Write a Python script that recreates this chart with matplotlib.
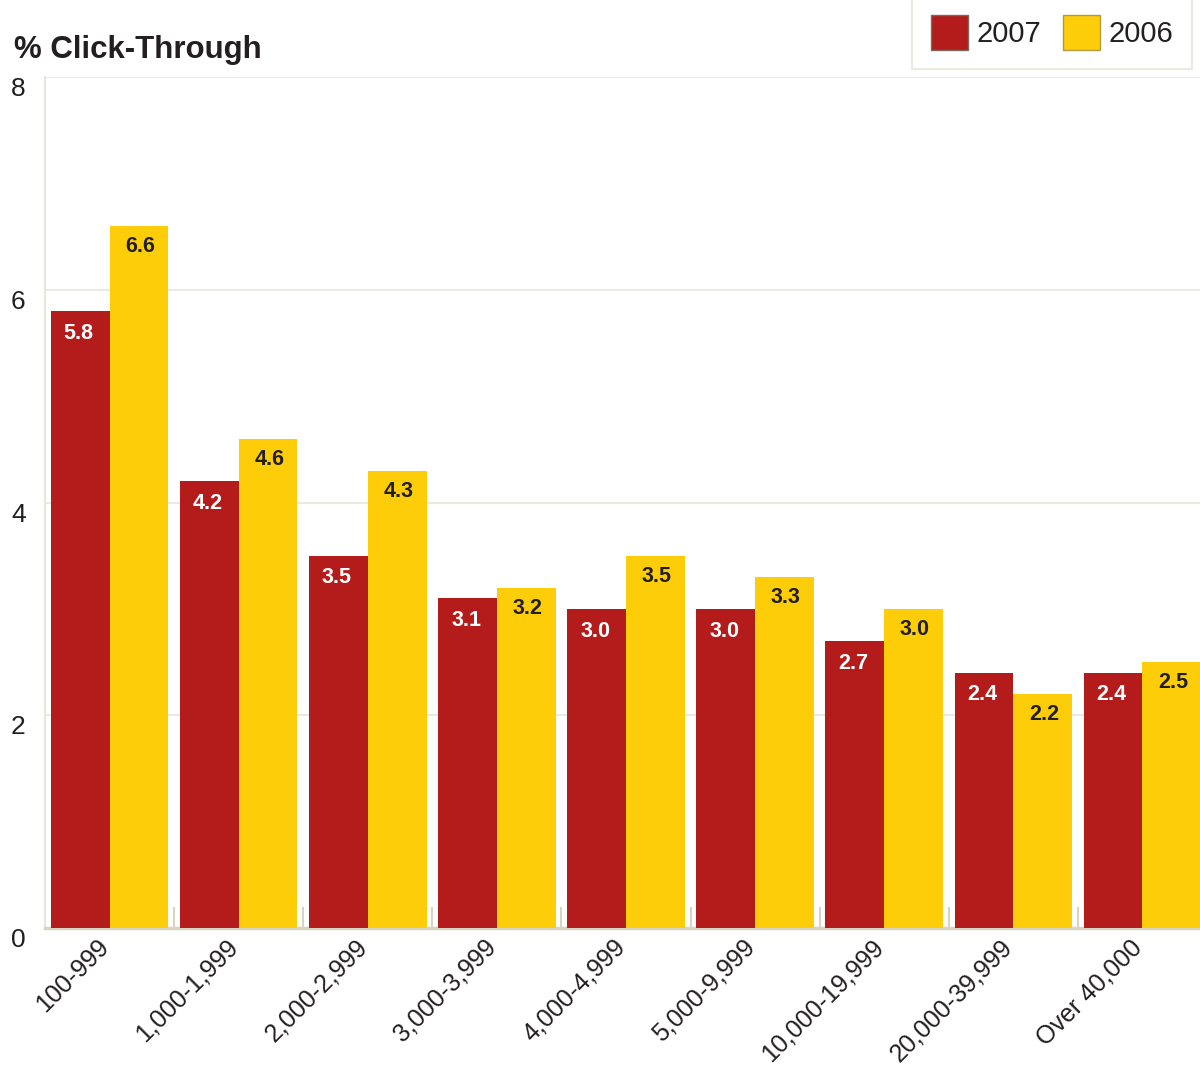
import matplotlib.pyplot as plt
from matplotlib.patches import Patch
from matplotlib.transforms import ScaledTranslation
import numpy as np

plt.rcParams['font.family'] = ['Liberation Sans', 'DejaVu Sans']

# Click-through rate by list size
categories = ['100-999', '1,000-1,999', '2,000-2,999', '3,000-3,999', '4,000-4,999',
              '5,000-9,999', '10,000-19,999', '20,000-39,999', 'Over 40,000']
rate_2007 = [5.8, 4.2, 3.5, 3.1, 3.0, 3.0, 2.7, 2.4, 2.4]
rate_2006 = [6.6, 4.6, 4.3, 3.2, 3.5, 3.3, 3.0, 2.2, 2.5]
yticks = [0, 2, 4, 6, 8]

RED = '#b31c1a'
YELLOW = '#fecd0a'
GRID = '#e8e6d8'
TEXT = '#231f20'

fig = plt.figure(figsize=(12, 10.68), dpi=100)
ax = fig.add_axes([45 / 1200, 1 - 928 / 1068, 1155 / 1200, 851 / 1068])

x = np.arange(len(categories))
w = 0.455
b07 = ax.bar(x - w / 2, rate_2007, w, color=RED, linewidth=0, zorder=3)
b06 = ax.bar(x + w / 2, rate_2006, w, color=YELLOW, linewidth=0, zorder=3)

# value labels just inside the top of each bar
for rect, v in zip(b07, rate_2007):
    ax.annotate(f'{v:.1f}', (rect.get_x() + rect.get_width() / 2, v),
                xytext=(-1, -16), textcoords='offset points', ha='center', va='center',
                color='white', fontsize=15.5, fontweight='bold', zorder=4)
for rect, v in zip(b06, rate_2006):
    ax.annotate(f'{v:.1f}', (rect.get_x() + rect.get_width() / 2, v),
                xytext=(1, -15), textcoords='offset points', ha='center', va='center',
                color=TEXT, fontsize=15.5, fontweight='bold', zorder=4)

# short separators between categories
ax.vlines(x[:-1] + 0.5, 0, 0.2, color='#d8d4c4', linewidth=1.5, zorder=2)

ax.set_xlim(-0.5, 8.5 - 7 / 129.1)
ax.set_ylim(0, 8)
ax.set_yticks(yticks)
ax.set_yticklabels([str(t) for t in yticks], fontsize=19, color=TEXT, va='top')
ax.tick_params(axis='y', length=0, pad=14)
ax.set_xticks(x)
ax.set_xticklabels(categories, rotation=45, ha='right', rotation_mode='anchor',
                   fontsize=18, color=TEXT)
ax.tick_params(axis='x', length=0, pad=5)
shift = ScaledTranslation(-13 / 100, 0, fig.dpi_scale_trans)
for lbl in ax.get_xticklabels():
    lbl.set_transform(lbl.get_transform() + shift)
ax.yaxis.grid(True, color=GRID, linewidth=1.2, zorder=0)
ax.set_axisbelow(True)

for side in ['top', 'right']:
    ax.spines[side].set_visible(False)
ax.spines['left'].set_color(GRID)
ax.spines['left'].set_linewidth(1.5)
ax.spines['bottom'].set_color('#d8d4c4')
ax.spines['bottom'].set_linewidth(2.5)

fig.text(14 / 1200, 1 - 50 / 1068, '% Click-Through', fontsize=22.5, fontweight='bold',
         color=TEXT, va='center', ha='left')

handles = [Patch(facecolor=RED, edgecolor='#7a6a60', label='2007'),
           Patch(facecolor=YELLOW, edgecolor='#b09a40', label='2006')]
leg = fig.legend(handles=handles, loc='upper right',
                 bbox_to_anchor=(1192 / 1200, 1 + 4 / 1068), borderaxespad=0,
                 ncol=2, fontsize=21, frameon=True, fancybox=False, handlelength=1.25,
                 handleheight=1.45, handletextpad=0.3, columnspacing=0.75, borderpad=0.65)
leg.get_frame().set_edgecolor(GRID)
leg.get_frame().set_linewidth(1.5)
for t in leg.get_texts():
    t.set_color(TEXT)

fig.savefig('out.png', dpi=100)
